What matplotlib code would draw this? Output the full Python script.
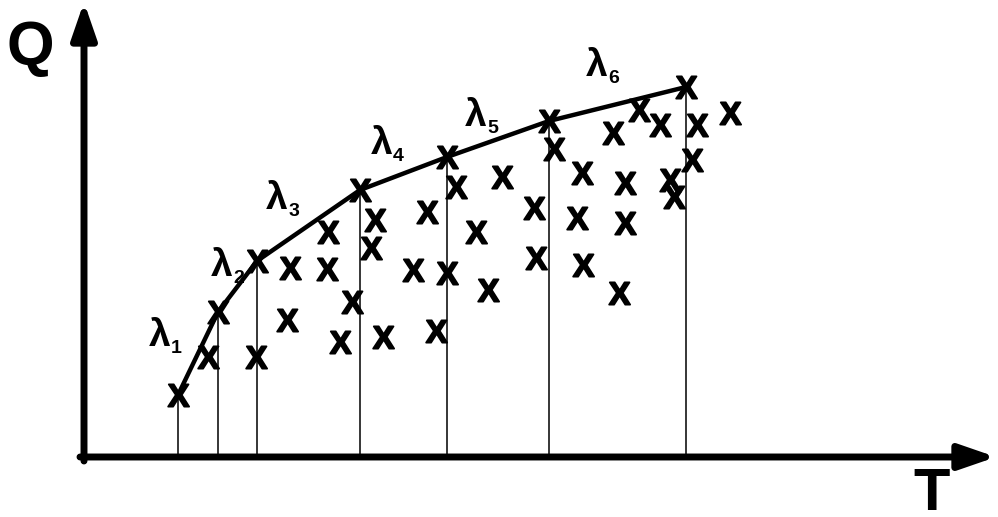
import matplotlib
matplotlib.use('Agg')
import matplotlib.pyplot as plt
import numpy as np
from matplotlib.textpath import TextPath
from matplotlib.font_manager import FontProperties
from matplotlib.path import Path
from matplotlib.markers import MarkerStyle

# envelope points (lambda_1 .. lambda_6 segments join these)
env_T = [9.4, 13.4, 17.3, 27.6, 36.3, 46.5, 60.2]
env_Q = [6.2, 14.5, 19.6, 26.7, 30.0, 33.6, 37.0]

# remaining observations below the envelope
obs_T = [12.4, 17.2, 20.6, 20.3, 24.4, 24.3, 26.8, 25.6, 29.1, 28.7, 29.9, 32.9,
         34.3, 35.2, 37.2, 36.3, 39.2, 40.4, 41.8, 45.0, 45.2, 47.0, 49.8, 49.3,
         49.9, 52.9, 54.1, 54.1, 53.5, 55.5, 57.6, 58.6, 59.0, 61.3, 60.8, 64.6]
obs_Q = [10.0, 10.0, 18.9, 13.7, 22.5, 18.8, 15.5, 11.5, 23.7, 20.9, 12.0, 18.7,
         24.5, 12.6, 27.0, 18.4, 22.5, 16.7, 28.0, 24.9, 19.9, 30.8, 28.4, 23.9,
         19.2, 32.4, 27.4, 23.4, 16.4, 34.7, 33.2, 27.7, 26.0, 33.2, 29.7, 34.4]

lam_labels = ['1', '2', '3', '4', '5', '6']
lam_T = [7.6, 13.8, 19.3, 29.8, 39.2, 51.3]
lam_Q = [12.1, 19.1, 25.8, 31.3, 34.1, 39.1]

bold = FontProperties(family='Liberation Sans', weight='bold')


def x_marker():
    # letter X as a centred path so it can be used as a scatter marker
    tp = TextPath((0, 0), 'X', prop=bold, size=10)
    v = tp.vertices.copy()
    v -= (v.min(axis=0) + v.max(axis=0)) / 2
    return MarkerStyle(Path(v, tp.codes))


fig = plt.figure(figsize=(9.98, 5.17), dpi=100)
ax = fig.add_axes([0, 0, 1, 1])
ax.set_xlim(-8.4, 91.4)
ax.set_ylim(-6.0, 45.7)
ax.axis('off')

# axes with arrow heads
arrow = dict(arrowstyle='-|>,head_length=1.1,head_width=0.38', lw=5,
             color='black', mutation_scale=20, shrinkA=0, shrinkB=0)
ax.annotate('', xy=(0, 45.5), xytext=(0, -0.4), arrowprops=arrow)
ax.annotate('', xy=(91.2, 0), xytext=(-0.4, 0), arrowprops=arrow)

ax.text(-5.4, 40.9, 'Q', fontproperties=bold, fontsize=44, ha='center', va='center')
ax.text(84.8, -1.0, 'T', fontproperties=bold, fontsize=43, ha='center', va='top')

# drop lines from the envelope points to the T axis
ax.vlines(env_T, 0, env_Q, colors='black', lw=1.1)
ax.plot(env_T, env_Q, color='black', lw=3.2, solid_capstyle='round')

mk = x_marker()
ax.scatter(env_T + obs_T, env_Q + obs_Q, marker=mk, s=16 ** 2,
           color='black', edgecolors='black', linewidths=1.3, zorder=3)

for lab, t, q in zip(lam_labels, lam_T, lam_Q):
    ax.text(t, q, '\u03bb', fontproperties=bold, fontsize=28, ha='center', va='center')
    ax.annotate(lab, (t, q), xytext=(12, -9), textcoords='offset points',
                fontproperties=bold, fontsize=14, ha='center', va='center')

fig.savefig('out.png', dpi=100)
